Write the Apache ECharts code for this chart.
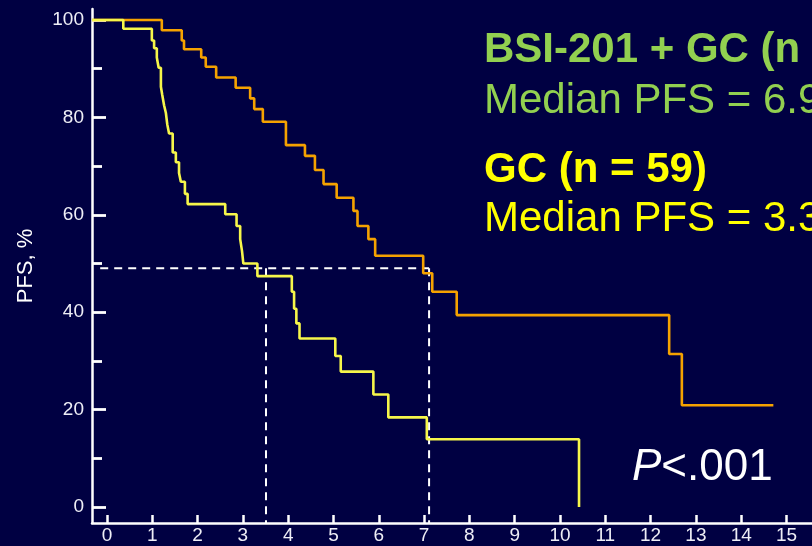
<!DOCTYPE html>
<html>
<head>
<meta charset="utf-8">
<script src="https://cdn.jsdelivr.net/npm/echarts@6/dist/echarts.min.js"></script>
<style>
html,body{margin:0;padding:0;background:#000042;}
#chart{width:812px;height:546px;}
</style>
</head>
<body>
<div id="chart"></div>
<script>
// ---- data ----
const xTickValues = [0,1,2,3,4,5,6,7,8,9,10,11,12,13,14,15];
const yMajorTicks = [0,20,40,60,80,100];
const yMinorTicks = [10,30,50,70,90];

// BSI-201 + GC arm (time in months, PFS % after each drop)
const bsiTime = [-0.33,1.21,1.65,1.70,2.08,2.18,2.41,2.84,3.16,3.25,3.44,3.95,4.37,4.59,4.78,5.07,5.44,5.53,5.77,5.92,6.98,7.18,7.72,12.41,12.69,14.71];
const bsiPfs  = [100,97.9,95.8,94.0,92.3,90.4,88.2,86.1,83.9,81.7,79.1,74.3,72.1,69.2,66.3,63.5,60.8,57.7,55.0,51.6,48.0,44.2,39.4,31.4,20.9,20.9];

// GC arm
const gcTime = [-0.33,0.36,0.99,1.04,1.10,1.14,1.19,1.22,1.26,1.30,1.33,1.37,1.45,1.52,1.59,1.63,1.72,1.78,2.61,2.86,2.94,2.98,3.01,3.32,4.08,4.13,4.18,4.25,5.04,5.16,5.88,6.21,7.06,10.42];
const gcPfs  = [100,98.2,95.8,94.2,92.3,90.2,86.3,84.6,82.5,80.9,78.6,76.7,72.8,70.8,68.6,66.8,64.3,62.2,60.1,57.7,55.0,52.6,50.0,47.4,44.2,40.7,37.7,34.6,31.0,27.8,23.1,18.4,13.9,0];

// median guide lines
const medianLevel = 49;
const medianStart = -0.15;
const gcMedianTime = 3.51;
const bsiMedianTime = 7.11;

const labels = {
  bsiTitle: 'BSI-201 + GC (n',
  bsiMedian: 'Median PFS = 6.9',
  gcTitle: 'GC (n = 59)',
  gcMedian: 'Median PFS = 3.3',
  yName: 'PFS, %'
};

// ---- chart ----
const X_MIN = -0.331, X_MAX = 15.563;
const Y_MIN = -3.29, Y_MAX = 102.26;
const FONT = '"Liberation Sans", Arial, sans-serif';

const zip = (a, b) => a.map((v, i) => [v, b[i]]);

const chart = echarts.init(document.getElementById('chart'), null, {renderer: 'canvas'});
chart.setOption({
  animation: false,
  backgroundColor: '#000042',
  grid: {left: 92, right: 0, top: 9, bottom: 23, containLabel: false},
  xAxis: {
    type: 'value', min: X_MIN, max: X_MAX,
    axisLine: {show: true, onZero: false, lineStyle: {color: '#ffffff', width: 2.5}},
    axisTick: {show: true, inside: true, length: 8, customValues: xTickValues, lineStyle: {color: '#ffffff', width: 2.5}},
    axisLabel: {show: true, customValues: xTickValues, margin: 3, color: '#eeeef6', fontSize: 19, fontFamily: FONT},
    splitLine: {show: false}
  },
  yAxis: [{
    type: 'value', min: Y_MIN, max: Y_MAX, position: 'left',
    name: labels.yName, nameLocation: 'middle', nameGap: 55, nameRotate: 90,
    nameTextStyle: {color: '#ffffff', fontSize: 22, fontFamily: FONT},
    axisLine: {show: true, onZero: false, lineStyle: {color: '#ffffff', width: 2.5}},
    axisTick: {show: true, inside: true, length: 14, customValues: yMajorTicks, lineStyle: {color: '#ffffff', width: 2.8}},
    axisLabel: {show: true, customValues: yMajorTicks, margin: 8, color: '#eeeef6', fontSize: 19, fontFamily: FONT},
    splitLine: {show: false}
  }, {
    type: 'value', min: Y_MIN, max: Y_MAX, position: 'left', offset: 0,
    axisLine: {show: false, onZero: false},
    axisTick: {show: true, inside: true, length: 10, customValues: yMinorTicks, lineStyle: {color: '#ffffff', width: 2.8}},
    axisLabel: {show: false},
    splitLine: {show: false}
  }],
  series: [
    {
      type: 'line', name: 'median-h', data: [[medianStart, medianLevel], [bsiMedianTime, medianLevel]],
      showSymbol: false, silent: true, lineStyle: {color: '#ffffff', width: 2, type: [8, 6]}, z: 1
    },
    {
      type: 'line', name: 'median-gc', data: [[gcMedianTime, medianLevel], [gcMedianTime, Y_MIN]],
      showSymbol: false, silent: true, lineStyle: {color: '#ffffff', width: 2, type: [8, 6]}, z: 1
    },
    {
      type: 'line', name: 'median-bsi', data: [[bsiMedianTime, medianLevel], [bsiMedianTime, Y_MIN]],
      showSymbol: false, silent: true, lineStyle: {color: '#ffffff', width: 2, type: [8, 6]}, z: 1
    },
    {
      type: 'line', name: 'BSI-201 + GC', step: 'end', data: zip(bsiTime, bsiPfs),
      showSymbol: false, lineStyle: {color: '#f5a200', width: 2.6}, z: 3
    },
    {
      type: 'line', name: 'GC', step: 'end', data: zip(gcTime, gcPfs),
      showSymbol: false, lineStyle: {color: '#f6f64a', width: 2.6}, z: 4
    }
  ],
  graphic: [
    {type: 'text', left: 484, top: 29, z: 10, style: {text: labels.bsiTitle, fill: '#92d050', font: 'bold 42px ' + FONT}},
    {type: 'text', left: 484, top: 80, z: 10, style: {text: labels.bsiMedian, fill: '#92d050', font: '42px ' + FONT}},
    {type: 'text', left: 484, top: 149, z: 10, style: {text: labels.gcTitle, fill: '#ffff00', font: 'bold 42px ' + FONT}},
    {type: 'text', left: 484, top: 198, z: 10, style: {text: labels.gcMedian, fill: '#ffff00', font: '42px ' + FONT}},
    {type: 'text', left: 632, top: 446, z: 10, style: {
      text: '{i|P}<.001', fill: '#ffffff', fontSize: 44, fontFamily: FONT,
      rich: {i: {fontStyle: 'italic', fontSize: 44, fontFamily: FONT, fill: '#ffffff'}}
    }}
  ]
});
</script>
</body>
</html>
